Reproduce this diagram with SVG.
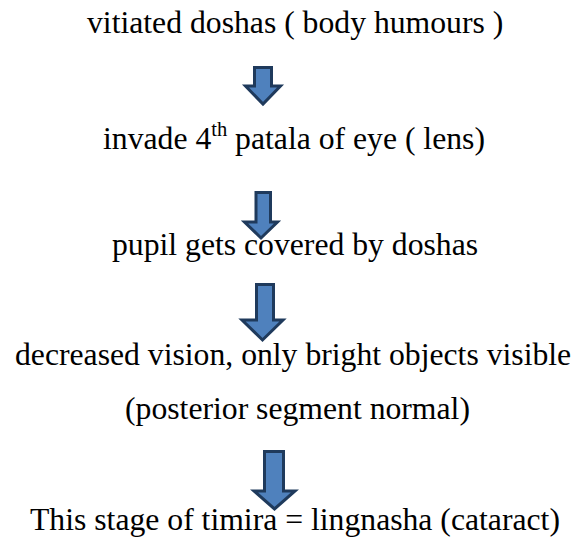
<svg xmlns="http://www.w3.org/2000/svg" width="579" height="539" viewBox="0 0 579 539">
<style>
.t{font-family:"Liberation Serif","Times New Roman",serif;font-size:31.7px;fill:#000}
.sup{font-size:20.5px}
.arr{fill:#4f81bd;stroke:#1f3a5c;stroke-width:3;stroke-linejoin:miter}
</style>
<rect width="579" height="539" fill="#fff"/>
<g id="n1"><text class="t" x="87" y="33">vitiated doshas ( body humours )</text></g>
<g id="n2"><text class="t" x="103" y="149">invade 4<tspan class="sup" dy="-13">th</tspan><tspan dy="13"> patala of eye ( lens)</tspan></text></g>
<g id="n3"><text class="t" x="112" y="255">pupil gets covered by doshas</text></g>
<g id="n4"><text class="t" x="15" y="365">decreased vision, only bright objects visible</text></g>
<g id="n5"><text class="t" x="125" y="419">(posterior segment normal)</text></g>
<g id="n6"><text class="t" x="30" y="530">This stage of timira = lingnasha (cataract)</text></g>
<g id="connectors">
<path class="arr" d="M254.5 67.5 H271.5 V86 H280.5 L263 104 L245.5 86 H254.5 Z"/>
<path class="arr" d="M256 192.5 H270.5 V222 H277.5 L261 238 L244.5 222 H256 Z"/>
<path class="arr" d="M256.5 284.5 H273.5 V320 H283 L262.5 340 L242 320 H256.5 Z"/>
<path class="arr" d="M264.5 451.5 H283.5 V491 H295 L274.5 509 L254 491 H264.5 Z"/>
</g>
</svg>
